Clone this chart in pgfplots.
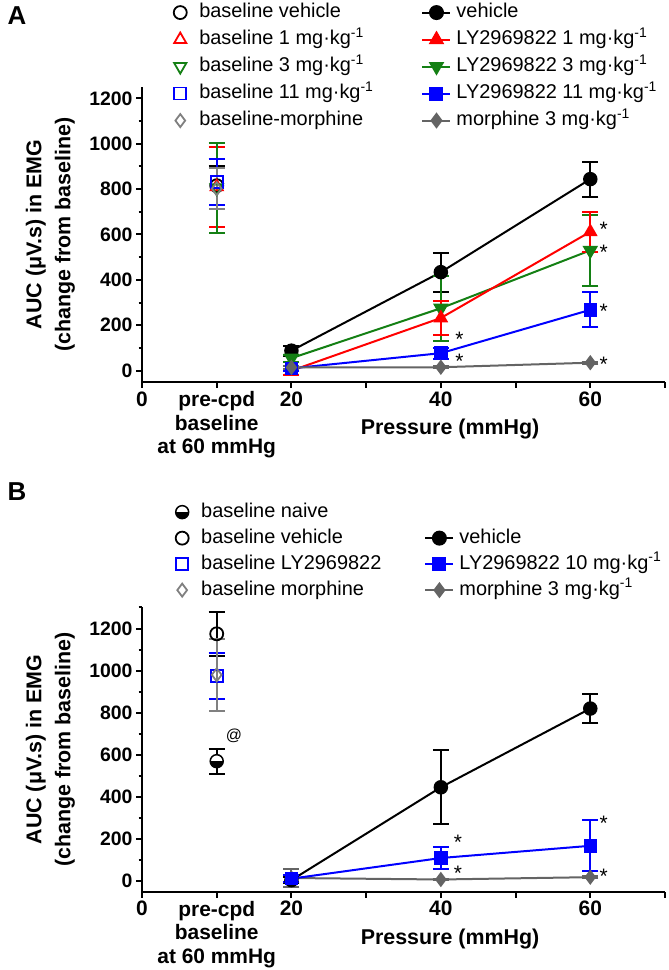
\documentclass[border=0pt]{standalone}
\usepackage{pgfplots}
\pgfplotsset{compat=1.18}
\usepackage{fontspec}
\setmainfont{Liberation Sans}
\usetikzlibrary{plotmarks}

\definecolor{cred}{RGB}{255,0,0}
\definecolor{cgreen}{RGB}{20,128,20}
\definecolor{cblue}{RGB}{0,0,255}
\definecolor{cgray}{RGB}{100,100,100}
\definecolor{lgray}{RGB}{128,128,128}

\tikzset{astnode/.style={font=\fontsize{21}{21}\selectfont, inner sep=0pt, yshift=-4.5bp}}

\pgfplotsset{
  panel/.style={
    scale only axis, width=523bp, clip=false,
    axis x line*=bottom, axis y line*=left,
    axis line style={line width=2bp, black},
    xmin=0, xmax=70,
    xtick={0,10,...,70},
    xticklabels={0,{pre-cpd\\baseline\\at 60 mmHg},20,,40,,60,},
    x tick label style={font=\fontsize{21}{23.5}\selectfont\bfseries, align=center, anchor=north},
    y tick label style={font=\fontsize{19.5}{19.5}\selectfont\bfseries},
    /pgf/number format/assume math mode=true,
    /pgf/number format/1000 sep={},
    tick style={line width=2bp, black},
    major tick length=6bp, minor tick length=3.5bp,
    tick align=outside,
    ytick={0,200,...,1200},
    xlabel={Pressure (mmHg)},
    x label style={at={(axis description cs:0.589,0)}, anchor=north, yshift=-37bp, inner sep=0pt, font=\fontsize{21.5}{26}\selectfont\bfseries},
    ylabel={AUC (μV.s) in EMG\\(change from baseline)},
    y label style={at={(axis description cs:-0.128,0.5)}, anchor=south, inner sep=0pt, align=center, font=\fontsize{21.5}{29}\selectfont\bfseries},
    legend columns=2,
    legend style={draw=none, fill=none, inner sep=0pt, font=\fontsize{20}{20}\selectfont,
      nodes={inner sep=3bp, text height=15bp, text depth=5bp},
      /tikz/every odd column/.append style={column sep=2bp},
      legend cell align=left},
    legend image code/.code={\draw[mark repeat=2,mark phase=2] plot coordinates {(0bp,0bp) (14bp,0bp) (28bp,0bp)};},
  },
  ser/.style={color=#1, line width=2bp, mark options={solid, fill=#1, line width=1.5bp},
    error bars/y dir=both, error bars/y explicit,
    error bars/error bar style={line width=2bp, #1},
    error bars/error mark options={rotate=90, mark size=8bp, line width=2bp, #1}},
  base/.style={color=#1, only marks, line width=2bp, mark options={solid, fill=white, line width=1.8bp},
    error bars/y dir=both, error bars/y explicit,
    error bars/error bar style={line width=2bp, #1},
    error bars/error mark options={rotate=90, mark size=8bp, line width=2bp, #1}},
  ptimg/.style={legend image code/.code={\path[draw=none,fill=none] (0bp,0bp) (28bp,0bp); \draw plot[only marks] coordinates {(14bp,0bp)};}},
}

\begin{document}
\begin{tikzpicture}
\useasboundingbox (0bp,0bp) rectangle (669bp,970bp);
\node[font=\fontsize{26}{26}\selectfont\bfseries] at (17bp,954bp) {A};
\node[font=\fontsize{26}{26}\selectfont\bfseries] at (17bp,478bp) {B};

% ---------------- Panel A ----------------
\begin{axis}[panel, at={(142bp,588bp)}, anchor=south west, height=295bp,
  ymin=-50, ymax=1250, minor ytick={100,300,...,1100},
  legend style={at={(axis description cs:0.046,1.297)}, anchor=north west,
    row sep=1bp,
    /tikz/every even column/.append style={column sep=45bp}}]
\addlegendimage{ptimg, black, mark=o, mark size=6.5bp, line width=1.8bp}
\addlegendentry{baseline vehicle}
\addlegendimage{black, line width=2bp, mark=*, mark size=6.5bp, mark options={fill=black}}
\addlegendentry{vehicle}
\addlegendimage{ptimg, cred, mark=triangle, mark size=7bp, line width=1.8bp}
\addlegendentry{baseline 1 mg·kg\textsuperscript{-1}}
\addlegendimage{cred, line width=2bp, mark=triangle*, mark size=7bp, mark options={fill=cred}}
\addlegendentry{LY2969822 1 mg·kg\textsuperscript{-1}}
\addlegendimage{ptimg, cgreen, mark=triangle, mark size=7bp, mark options={rotate=180}, line width=1.8bp}
\addlegendentry{baseline 3 mg·kg\textsuperscript{-1}}
\addlegendimage{cgreen, line width=2bp, mark=triangle*, mark size=7bp, mark options={rotate=180, fill=cgreen}}
\addlegendentry{LY2969822 3 mg·kg\textsuperscript{-1}}
\addlegendimage{ptimg, cblue, mark=square, mark size=6bp, line width=1.8bp}
\addlegendentry{baseline 11 mg·kg\textsuperscript{-1}}
\addlegendimage{cblue, line width=2bp, mark=square*, mark size=6bp, mark options={fill=cblue}}
\addlegendentry{LY2969822 11 mg·kg\textsuperscript{-1}}
\addlegendimage{ptimg, lgray, mark=diamond, mark size=6.5bp, line width=1.8bp}
\addlegendentry{baseline-morphine}
\addlegendimage{cgray, line width=2bp, mark=diamond*, mark size=6.5bp, mark options={fill=cgray}}
\addlegendentry{morphine 3 mg·kg\textsuperscript{-1}}

% baselines
\addplot[base=black, mark=o, mark size=6.5bp, forget plot] coordinates {(10,815) +- (0,85)};
\addplot[base=cred, mark=triangle, mark size=7bp, forget plot] coordinates {(10,810) +- (0,175)};
\addplot[base=cgreen, mark=triangle, mark size=7bp, mark options={rotate=180}, forget plot] coordinates {(10,805) +- (0,197)};
\addplot[base=cblue, mark=square, mark size=6bp, forget plot] coordinates {(10,832) +- (0,102)};
\addplot[base=lgray, mark=diamond, mark size=6.5bp, forget plot] coordinates {(10,802) +- (0,90)};

% series
\addplot[ser=black, mark=*, mark size=6.5bp, forget plot] coordinates {
  (20,88) +- (0,22) (40,434) +- (0,86) (60,844) +- (0,77)};
\addplot[ser=cgreen, mark=triangle*, mark size=7bp, mark options={rotate=180}, forget plot] coordinates {
  (20,55) +- (0,15) (40,275) +- (0,143) (60,530) +- (0,156)};
\addplot[ser=cred, mark=triangle*, mark size=7bp, forget plot] coordinates {
  (20,0) +- (0,20) (40,232) +- (0,74) (60,612) +- (0,88)};
\addplot[ser=cblue, mark=square*, mark size=6bp, forget plot] coordinates {
  (20,10) +- (0,10) (40,77) +- (0,25) (60,268) +- (0,77)};
\addplot[ser=cgray, mark=diamond*, mark size=6.5bp, forget plot] coordinates {
  (20,14) +- (0,6) (40,15) +- (0,5) (60,35) +- (0,5)};

\node[astnode] at (axis cs:42.5,157) {*};
\node[astnode] at (axis cs:42.5,62) {*};
\node[astnode] at (axis cs:61.8,642) {*};
\node[astnode] at (axis cs:61.8,542) {*};
\node[astnode] at (axis cs:61.8,282) {*};
\node[astnode] at (axis cs:61.8,47) {*};
\end{axis}

% ---------------- Panel B ----------------
\begin{axis}[panel, at={(142bp,78.3bp)}, anchor=south west, height=284.2bp,
  ymin=-50, ymax=1300, minor ytick={100,300,...,1300},
  legend style={at={(axis description cs:0.0497,1.382)}, anchor=north west,
    row sep=0bp,
    /tikz/every even column/.append style={column sep=40bp}}]
\addlegendimage{ptimg, black, mark=halfcircle*, mark size=6.5bp, line width=1.5bp, mark options={fill=white, mark color=black}}
\addlegendentry{baseline naive}
\addlegendimage{empty legend}
\addlegendentry{}
\addlegendimage{ptimg, black, mark=o, mark size=6.5bp, line width=1.8bp}
\addlegendentry{baseline vehicle}
\addlegendimage{black, line width=2bp, mark=*, mark size=6.5bp, mark options={fill=black}}
\addlegendentry{vehicle}
\addlegendimage{ptimg, cblue, mark=square, mark size=6bp, line width=1.8bp}
\addlegendentry{baseline LY2969822}
\addlegendimage{cblue, line width=2bp, mark=square*, mark size=6bp, mark options={fill=cblue}}
\addlegendentry{LY2969822 10 mg·kg\textsuperscript{-1}}
\addlegendimage{ptimg, lgray, mark=diamond, mark size=6.5bp, line width=1.8bp}
\addlegendentry{baseline morphine}
\addlegendimage{cgray, line width=2bp, mark=diamond*, mark size=6.5bp, mark options={fill=cgray}}
\addlegendentry{morphine 3 mg·kg\textsuperscript{-1}}

\addplot[base=black, mark=o, mark size=6.5bp, forget plot] coordinates {(10,1175) +- (0,105)};
\addplot[base=cblue, mark=square, mark size=6bp, forget plot] coordinates {(10,975) +- (0,111)};
\addplot[base=lgray, mark=diamond, mark size=6.5bp, forget plot] coordinates {(10,980) +- (0,172)};
\addplot[base=black, mark=halfcircle*, mark size=6.5bp, mark options={fill=white, mark color=black, line width=1.5bp}, forget plot] coordinates {(10,570) +- (0,60)};
\node[font=\fontsize{16}{16}\selectfont] at (axis cs:12.3,690) {@};

\addplot[ser=cgray, mark=diamond*, mark size=6.5bp, forget plot] coordinates {
  (20,15) +- (0,45) (40,8) +- (0,4) (60,19) +- (0,4)};
\addplot[ser=black, mark=*, mark size=6.5bp, forget plot] coordinates {
  (20,5) +- (0,15) (40,446) +- (0,176) (60,820) +- (0,68)};
\addplot[ser=cblue, mark=square*, mark size=6bp, forget plot] coordinates {
  (20,12) +- (0,15) (40,110) +- (0,52) (60,168) +- (0,121)};

\node[astnode] at (axis cs:42.3,208) {*};
\node[astnode] at (axis cs:42.3,60) {*};
\node[astnode] at (axis cs:61.8,298) {*};
\node[astnode] at (axis cs:61.8,43) {*};
\end{axis}
\end{tikzpicture}
\end{document}
